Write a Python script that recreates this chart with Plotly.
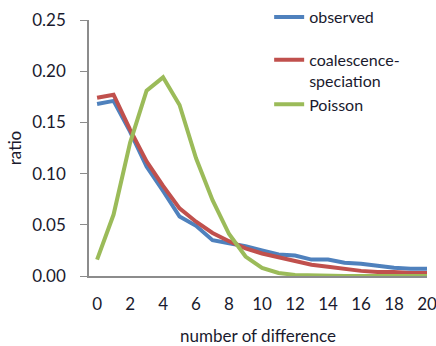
import plotly.graph_objects as go

x_vals = list(range(0, 21))
observed = [0.168, 0.171, 0.141, 0.107, 0.083, 0.058, 0.049, 0.035, 0.032, 0.029, 0.025,
            0.021, 0.020, 0.016, 0.016, 0.013, 0.012, 0.010, 0.008, 0.007, 0.007]
coalescence = [0.174, 0.177, 0.143, 0.112, 0.088, 0.066, 0.053, 0.042, 0.034, 0.027, 0.022,
               0.018, 0.014, 0.011, 0.009, 0.007, 0.005, 0.004, 0.004, 0.003, 0.003]
poisson = [0.016, 0.060, 0.130, 0.181, 0.194, 0.167, 0.115, 0.074, 0.041, 0.019, 0.008,
           0.003, 0.001, 0.0005, 0.0002, 0.0001, 0.0, 0.0, 0.0, 0.0, 0.0]
y_ticks = [0.00, 0.05, 0.10, 0.15, 0.20, 0.25]
x_ticks = list(range(0, 21, 2))

font_family = "Lato, Open Sans, sans-serif"
text_color = "#1a1a2e"

fig = go.Figure()
fig.add_trace(go.Scatter(x=x_vals, y=observed, mode="lines", name="observed",
                         line=dict(color="#4F81BD", width=4), legendgroup="a"))
fig.add_trace(go.Scatter(x=x_vals, y=coalescence, mode="lines", name="coalescence-<br>speciation",
                         line=dict(color="#C0504D", width=4), legendgroup="b"))
fig.add_trace(go.Scatter(x=x_vals, y=poisson, mode="lines", name="Poisson",
                         line=dict(color="#9BBB59", width=4), legendgroup="b"))

fig.update_layout(
    width=436, height=346,
    margin=dict(l=89, r=9, t=20, b=70, autoexpand=False),
    paper_bgcolor="white", plot_bgcolor="white",
    font=dict(family=font_family, size=17, color=text_color),
    showlegend=True,
    legend=dict(x=0.533, xref="paper", y=1.0, yref="container", xanchor="left", yanchor="top",
                font=dict(size=16, color=text_color), bgcolor="rgba(0,0,0,0)",
                traceorder="grouped", tracegroupgap=19, valign="top"),
    xaxis=dict(range=[-0.49, 20], tickvals=x_ticks, showgrid=False, zeroline=False,
               showline=True, linecolor="#8c8c8c", linewidth=1.5, ticks="",
               ticklabelstandoff=12, tickfont=dict(size=17), ticklabeloverflow="allow",
               title=dict(text="number of difference", standoff=18, font=dict(size=17))),
    yaxis=dict(range=[0, 0.25], tickvals=y_ticks, tickformat=".2f", showgrid=False, zeroline=False,
               showline=True, linecolor="#8c8c8c", linewidth=1.5, ticks="outside",
               ticklen=7, tickcolor="#8c8c8c", tickfont=dict(size=17), ticklabelstandoff=11,
               ticklabeloverflow="allow",
               title=dict(text="ratio", standoff=6, font=dict(size=17))),
)

fig.write_html("out.html", post_script="document.body.style.margin='0';",
               config={"displayModeBar": False})
